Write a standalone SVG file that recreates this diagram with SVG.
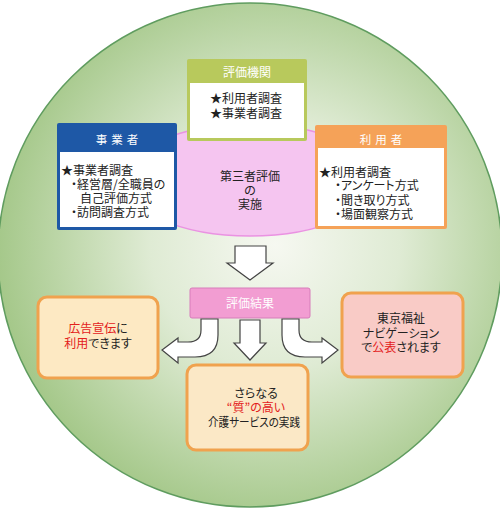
<svg xmlns="http://www.w3.org/2000/svg" width="500" height="510" viewBox="0 0 500 510">
<defs>
<radialGradient id="bg" cx="0.55" cy="0.48" r="0.55">
<stop offset="0" stop-color="#f6f8f1"/>
<stop offset="0.45" stop-color="#dfebd4"/>
<stop offset="1" stop-color="#a5c88a"/>
</radialGradient>
<style>
text{font-family:"Noto Sans CJK JP","Noto Sans CJK SC",sans-serif;font-size:12px;fill:#222;font-feature-settings:"palt"}
.c{text-anchor:middle}
.w{fill:#fff}
.r{fill:#e3201b}
.hd{font-size:11.5px;letter-spacing:4px}
.arrow{fill:#fff;stroke:#444;stroke-width:1.2;stroke-linejoin:miter}
.res{stroke:#f0a24e;stroke-width:3}
</style>
</defs>
<circle cx="250" cy="255" r="252" fill="url(#bg)" stroke="#5f9c5f" stroke-width="1.5"/>
<g id="center">
<ellipse cx="250" cy="180" rx="126" ry="56" fill="#f5c5f0" stroke="#ea92e2" stroke-width="1.5"/>
<text class="c" x="250" y="180.5">第三者評価</text>
<text class="c" x="250" y="194.5">の</text>
<text class="c" x="250" y="208.5">実施</text>
</g>
<g id="hyoka-kikan">
<rect x="187" y="59" width="120" height="82" rx="2" fill="#b8c95c"/>
<rect x="190" y="83" width="114" height="55" fill="#fff"/>
<text class="c w" x="247" y="76.5">評価機関</text>
<text x="210" y="102.5">★利用者調査</text>
<text x="210" y="117.5">★事業者調査</text>
</g>
<g id="jigyosha">
<rect x="57" y="123" width="120" height="107" rx="2" fill="#1e58a6"/>
<rect x="60" y="152" width="114" height="75" fill="#fff"/>
<text class="c w hd" x="119" y="144">事業者</text>
<text x="61" y="174.5">★事業者調査</text>
<text x="71" y="188.5">・経営層/全職員の</text>
<text x="80" y="202.5">自己評価方式</text>
<text x="71" y="216.5">・訪問調査方式</text>
</g>
<g id="riyosha">
<rect x="315" y="125" width="132" height="104" rx="2" fill="#f5a258"/>
<rect x="318" y="148" width="126" height="78" fill="#fff"/>
<text class="c w hd" x="383" y="144">利用者</text>
<text x="319" y="176.5">★利用者調査</text>
<text x="335" y="189.5">・アンケート方式</text>
<text x="335" y="204.5">・聞き取り方式</text>
<text x="335" y="218.5">・場面観察方式</text>
</g>
<g id="kekka">
<rect x="190" y="288" width="120" height="30" rx="2" fill="#f29dd2" stroke="#d77cba" stroke-width="1"/>
<text class="c w" x="250" y="307.5">評価結果</text>
</g>
<g id="kokoku">
<rect x="38" y="297" width="120" height="81" rx="9" fill="#fde9c3" class="res"/>
<text class="c" x="98" y="332.5"><tspan class="r">広告宣伝</tspan>に</text>
<text class="c" x="98" y="347.5"><tspan class="r">利用</tspan>できます</text>
</g>
<g id="navi">
<rect x="342" y="293" width="121" height="84" rx="9" fill="#f9cbc6" class="res"/>
<text class="c" x="401" y="322.5">東京福祉</text>
<text class="c" x="401" y="337.5">ナビゲーション</text>
<text class="c" x="401" y="351.5">で<tspan class="r">公表</tspan>されます</text>
</g>
<g id="jissen">
<rect x="187" y="365" width="121" height="85" rx="9" fill="#fbe8c6" class="res"/>
<text class="c" x="256" y="397.5">さらなる</text>
<text class="c r" x="256" y="411.5">“質”の高い</text>
<text class="c" x="254" y="426.5" font-size="11.5" textLength="92" lengthAdjust="spacingAndGlyphs">介護サービスの実践</text>
</g>
<g id="connectors">
<path class="arrow" d="M235 246 L266 246 L266 263 L273 263 L250 280 L227 263 L235 263 Z"/>
<path class="arrow" d="M240 320 L260 320 L260 343 L266 343 L250 360 L234 343 L240 343 Z"/>
<path class="arrow" d="M201 319 L201 330 Q201 342 188 342 L178 342 L178 338 L162 350 L178 363 L178 357 L195 357 Q218 357 218 335 L218 319 Z"/>
<path class="arrow" d="M299 319 L299 330 Q299 342 312 342 L322 342 L322 338 L338 350 L322 363 L322 357 L305 357 Q282 357 282 335 L282 319 Z"/>
</g>
</svg>
